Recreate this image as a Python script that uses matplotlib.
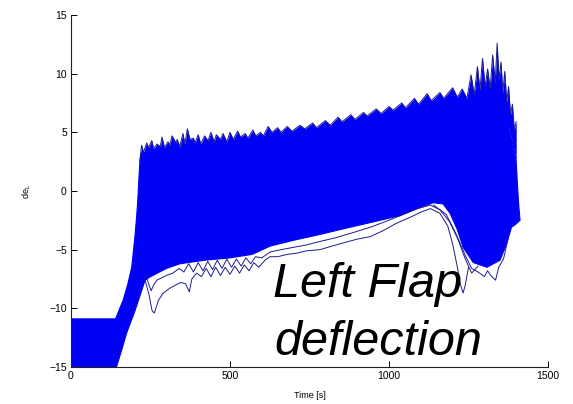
import numpy as np
import matplotlib
matplotlib.use("Agg")
import matplotlib.pyplot as plt

plt.rcParams['font.family'] = ['Liberation Sans', 'DejaVu Sans']
plt.rcParams['mathtext.fontset'] = 'custom'
plt.rcParams['mathtext.rm'] = 'Liberation Sans'

# Envelope of the simulated flap deflection runs (upper edge, left to right)
t_upper = [0, 140, 152, 164, 178, 191, 201, 206, 210, 213, 216, 220, 240, 280, 320,
           360, 400, 450, 500, 550, 600, 650, 700, 750, 800, 850, 900, 950, 1000,
           1050, 1100, 1150, 1200, 1250, 1290, 1320, 1350, 1375, 1390, 1400, 1404,
           1408, 1412]
v_upper = [-10.9, -10.9, -10.1, -9.3, -8.0, -6.5, -3.9, -2.3, -0.8, 0.8, 2.2, 3.2,
           3.3, 3.3, 3.4, 3.5, 3.6, 3.7, 3.8, 3.9, 4.0, 4.2, 4.4, 4.6, 4.8, 5.0, 5.3,
           5.6, 6.0, 6.3, 6.6, 6.8, 7.0, 7.3, 7.8, 7.6, 6.5, 5.5, 4.0, 2.5, 0.5,
           -1.2, -2.5]

# Lower edge of the envelope
t_lower = [0, 143, 160, 175, 200, 233, 250, 300, 343, 420, 500, 570, 626, 700, 783,
           860, 940, 1035, 1088, 1139, 1170, 1192, 1215, 1233, 1265, 1308, 1349,
           1370, 1385, 1400, 1412]
v_lower = [-15, -15, -13.5, -12.1, -10.3, -7.6, -7.3, -6.6, -6.2, -5.9, -5.7, -5.4,
           -4.7, -4.2, -3.7, -3.2, -2.7, -2.1, -1.5, -1.0, -1.1, -1.9, -3.3, -4.8,
           -6.1, -6.5, -5.9, -4.5, -3.1, -2.8, -2.5]

# Highest individual run
t_top = [216, 222, 228, 238, 244, 254, 260, 270, 281, 286, 294, 305, 310, 318, 330,
         334, 342, 352, 358, 366, 374, 385, 390, 400, 408, 420, 431, 440, 450, 457,
         470, 478, 490, 500, 510, 524, 533, 548, 556, 572, 581, 596, 605, 620, 632,
         650, 660, 680, 695, 720, 735, 760, 772, 800, 815, 840, 852, 880, 893, 920,
         931, 960, 975, 1000, 1013, 1040, 1052, 1080, 1093, 1120, 1133, 1160, 1172,
         1200, 1215, 1230, 1245, 1258, 1268, 1278, 1286, 1294, 1302, 1310, 1318,
         1326, 1334, 1340, 1346, 1352, 1358, 1364, 1370, 1376, 1382, 1388, 1394, 1400]
v_top = [2.5, 3.9, 3.3, 4.1, 3.7, 4.3, 3.6, 4.0, 3.8, 4.6, 3.7, 4.2, 3.9, 4.7, 4.1,
         4.4, 3.8, 4.9, 4.0, 5.3, 4.4, 4.5, 4.1, 4.8, 4.0, 4.7, 4.3, 5.0, 4.2, 4.8,
         4.4, 4.9, 4.2, 5.0, 4.4, 5.1, 4.6, 4.9, 4.5, 5.2, 4.7, 5.0, 4.7, 5.5, 5.0,
         5.4, 5.0, 5.5, 5.1, 5.6, 5.3, 5.8, 5.4, 6.0, 5.6, 6.3, 5.9, 6.5, 6.1, 6.7,
         6.4, 7.0, 6.6, 7.2, 6.9, 7.5, 7.1, 7.9, 7.4, 8.3, 7.7, 8.4, 7.9, 8.8, 8.0,
         8.7, 7.9, 9.9, 8.2, 10.6, 8.6, 11.3, 8.9, 10.4, 8.7, 11.6, 9.2, 12.6, 9.5,
         11.0, 8.4, 10.2, 7.6, 8.9, 6.5, 7.4, 5.2, 5.9]

# Lowest individual runs
t_low_a = [233, 245, 255, 262, 275, 290, 310, 330, 345, 360, 372, 380, 395, 410, 425,
           440, 455, 470, 485, 500, 515, 530, 545, 560, 575, 590, 610, 626, 650, 680,
           710, 740, 783, 820, 860, 900, 940, 980, 1020, 1044, 1070, 1100, 1130, 1160,
           1185, 1200, 1215, 1225, 1233, 1240, 1250]
v_low_a = [-7.6, -8.8, -10.2, -10.4, -9.3, -8.7, -8.3, -8.0, -7.8, -7.9, -8.6, -7.5,
           -7.0, -7.3, -6.6, -7.3, -6.5, -7.2, -6.5, -7.1, -6.4, -7.0, -6.3, -6.8,
           -6.1, -6.5, -5.9, -5.6, -5.6, -5.4, -5.3, -5.1, -5.0, -4.7, -4.4, -4.1,
           -3.9, -3.4, -2.8, -2.5, -2.2, -1.8, -1.5, -1.9, -3.0, -4.5, -6.5, -8.0,
           -8.7, -8.0, -6.5]

t_low_b = [236, 244, 252, 260, 270, 285, 300, 320, 340, 355, 370, 385, 400, 415, 430,
           445, 460, 475, 490, 505, 520, 535, 550, 565, 580, 600, 626, 660, 700, 740,
           783, 830, 880, 940, 990, 1044, 1090, 1130, 1160, 1190, 1215, 1240, 1260,
           1280]
v_low_b = [-7.2, -7.9, -8.5, -8.0, -7.6, -7.4, -7.2, -7.0, -6.6, -6.9, -6.2, -6.9,
           -6.1, -6.8, -6.0, -6.7, -5.9, -6.6, -5.8, -6.5, -5.8, -6.4, -5.7, -6.2,
           -5.6, -5.7, -5.2, -5.0, -4.8, -4.6, -4.3, -4.0, -3.6, -3.1, -2.6, -2.0,
           -1.5, -1.2, -1.6, -2.6, -4.0, -5.8, -7.0, -6.4]

t_low_c = [1140, 1180, 1210, 1240, 1260, 1280, 1300, 1310, 1320, 1335, 1345, 1360, 1375]
v_low_c = [-1.2, -2.0, -3.6, -5.5, -6.6, -6.9, -7.3, -6.8, -7.2, -7.6, -6.5, -5.8, -4.0]

x_ticks = [0, 500, 1000, 1500]
y_ticks = [-15, -10, -5, 0, 5, 10, 15]

band_color = '#0000f5'
edge_color = '#1c1c8c'

fig = plt.figure(figsize=(5.73, 4.04), dpi=100)
ax = fig.add_axes([71 / 573, 37 / 404, 477 / 573, 352 / 404])

poly_t = np.concatenate([t_upper, t_lower[::-1]])
poly_v = np.concatenate([v_upper, v_lower[::-1]])
ax.fill(poly_t, poly_v, color=band_color, lw=0.8, zorder=2)

# spiky crest between the band and the highest run
ax.fill_between(t_top, v_top, np.interp(t_top, t_upper, v_upper),
                color=band_color, lw=0, zorder=1)
for tt, vv in [(t_top, v_top), (t_low_a, v_low_a), (t_low_b, v_low_b),
               (t_low_c, v_low_c)]:
    ax.plot(tt, vv, color=edge_color, lw=0.7, zorder=3)

ax.set_xlim(0, 1500)
ax.set_ylim(-15, 15)
ax.set_xticks(x_ticks)
ax.set_yticks(y_ticks)
ax.tick_params(direction='in', length=4, width=0.7, labelsize=7.5, colors='k', pad=3)
for side in ('top', 'right'):
    ax.spines[side].set_visible(False)
for side in ('left', 'bottom'):
    ax.spines[side].set_linewidth(0.8)
    ax.spines[side].set_color('#222222')

ax.set_xlabel('Time [s]', fontsize=6.5, labelpad=7)
ax.set_ylabel(r'de$_\mathregular{L}$', fontsize=6.5, labelpad=12)

ax.text(635, -9.0, 'Left Flap', fontsize=35, style='italic',
        ha='left', va='baseline', zorder=5)
ax.text(640, -14.0, 'deflection', fontsize=35, style='italic',
        ha='left', va='baseline', zorder=5)

fig.savefig('out.png', dpi=100)
